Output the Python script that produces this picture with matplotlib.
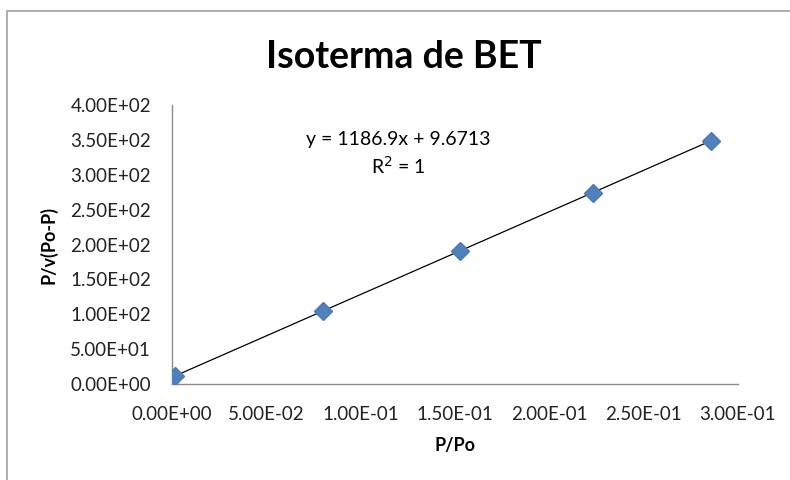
from matplotlib import pyplot as plt
from matplotlib.patches import Rectangle
from matplotlib.ticker import FuncFormatter
import numpy as np

# data
p_po = [0.0015, 0.080, 0.1525, 0.223, 0.2855]
bet_y = [11.0, 105.0, 190.5, 274.0, 348.5]
slope = 1186.9
intercept = 9.6713
x_ticks = [0.0, 0.05, 0.10, 0.15, 0.20, 0.25, 0.30]
y_ticks = [0, 50, 100, 150, 200, 250, 300, 350, 400]

plt.rcParams['font.family'] = ['Lato', 'DejaVu Sans']

fig = plt.figure(figsize=(7.9, 4.8), dpi=100)
fig.patches.append(Rectangle((0.009, -0.1), 1.2, 1.077, transform=fig.transFigure,
                             fill=False, edgecolor='#a0a0a0', linewidth=1.2))

ax = fig.add_axes([0.2177, 0.2, 0.7165, 0.58125])

xs = np.array([min(p_po), max(p_po)])
ax.plot(xs, slope * xs + intercept, color='black', linewidth=0.9, zorder=2)
ax.plot(p_po, bet_y, linestyle='none', marker='D', markersize=9,
        color='#4f81bd', markeredgecolor='#4a7ab5', zorder=3)

ax.set_xlim(0, 0.3)
ax.set_ylim(0, 400)
ax.set_xticks(x_ticks)
ax.set_yticks(y_ticks)
sci = FuncFormatter(lambda v, pos: f"{v:.2E}")
ax.xaxis.set_major_formatter(sci)
ax.yaxis.set_major_formatter(sci)
ax.tick_params(length=0, labelsize=13.5, colors='#222222', pad=15)
ax.tick_params(axis='x', pad=16)

for side in ['top', 'right']:
    ax.spines[side].set_visible(False)
for side in ['left', 'bottom']:
    ax.spines[side].set_color('#8c8c8c')
    ax.spines[side].set_linewidth(1.0)

ax.set_xlabel('P/Po', fontsize=13, fontweight='bold', labelpad=10)
ax.set_ylabel('P/v(Po-P)', fontsize=13, fontweight='bold', labelpad=9)
fig.text(0.511, 0.881, 'Isoterma de BET', fontsize=27, fontweight='bold',
         ha='center', va='center')

ax.text(0.1198, 350, f'y = {slope}x + {intercept}', fontsize=14, ha='center', va='center')
ax.text(0.1198, 313, r'R$^2$ = 1', fontsize=14, ha='center', va='center')

fig.savefig('out.png', dpi=100)
